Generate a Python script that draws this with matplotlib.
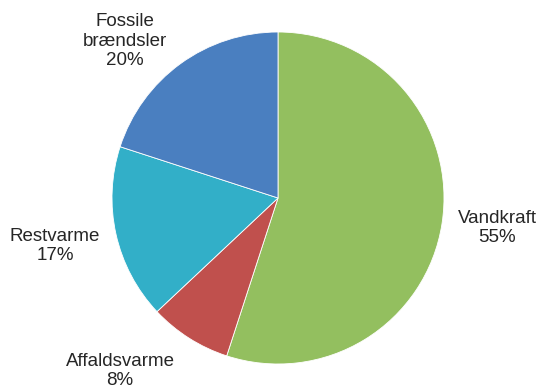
import matplotlib
matplotlib.use("Agg")
import matplotlib.pyplot as plt

plt.rcParams['font.family'] = ['Liberation Sans', 'DejaVu Sans']

# data
labels = ['Vandkraft', 'Affaldsvarme', 'Restvarme', 'Fossile\nbrændsler']
shares = [55, 8, 17, 20]
colors = ['#93BF5F', '#C0504D', '#32AFC8', '#4A7FC0']

# label positions (pixels in the 540x385 image)
label_pos = [(497, 228), (120, 371), (55, 246), (125, 41)]

W, H = 540, 385
fig = plt.figure(figsize=(W / 100, H / 100), dpi=100)
ax = fig.add_axes([0, 0, 1, 1])

ax.pie(shares, colors=colors, startangle=90, counterclock=False,
       center=(278, H - 198), radius=166, frame=True,
       wedgeprops=dict(edgecolor='white', linewidth=0.6))
ax.set_xlim(0, W)
ax.set_ylim(0, H)
ax.set_aspect('equal')
ax.axis('off')

for lab, val, (px, py) in zip(labels, shares, label_pos):
    ax.text(px, H - py, f'{lab}\n{val}%', ha='center', va='center',
            fontsize=13.5, color='#262626', linespacing=1.2)

fig.savefig('out.png', dpi=100)
